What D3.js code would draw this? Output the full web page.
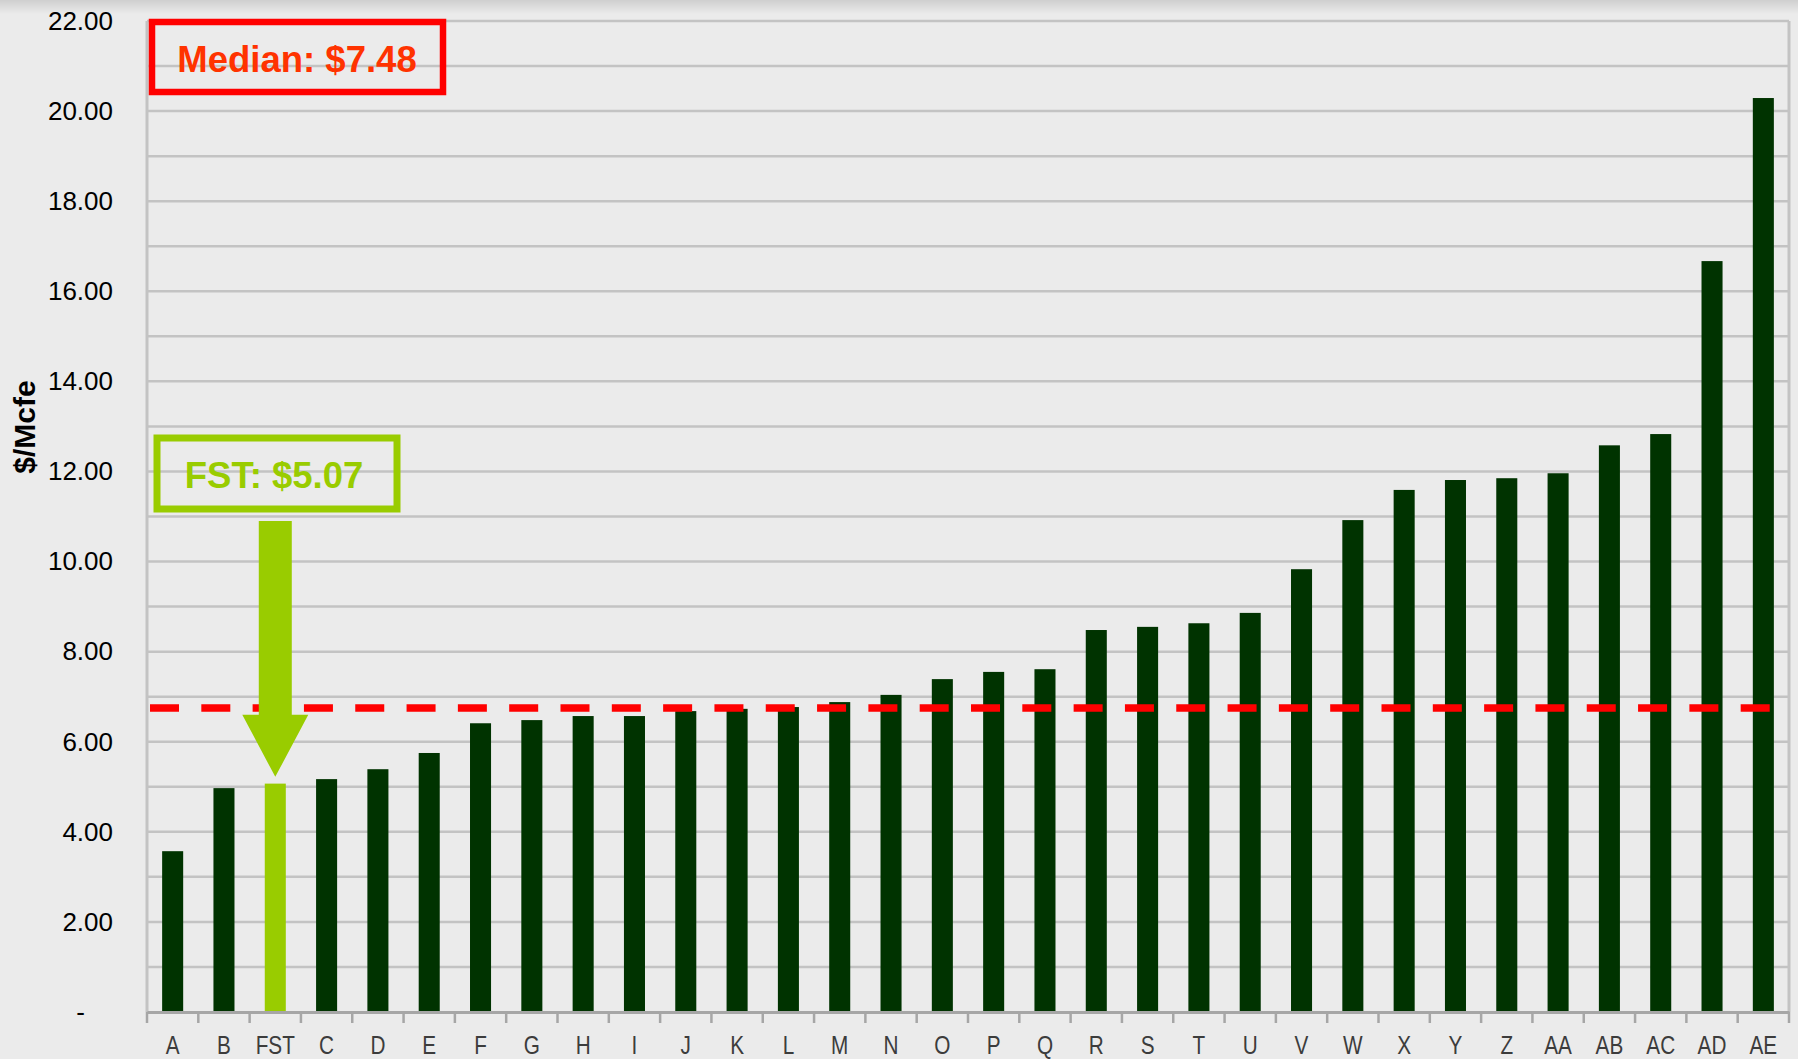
<!DOCTYPE html>
<html>
<head>
<meta charset="utf-8">
<script src="https://cdn.jsdelivr.net/npm/d3@7"></script>
<style>
  body { margin: 0; background: #ebebeb; }
  svg { display: block; }
</style>
</head>
<body>
<svg id="chart" width="1798" height="1059"></svg>
<script>
// categories and values
const categories = ["A", "B", "FST", "C", "D", "E", "F", "G", "H", "I", "J", "K", "L", "M", "N", "O",
  "P", "Q", "R", "S", "T", "U", "V", "W", "X", "Y", "Z", "AA", "AB", "AC", "AD", "AE"];
const values = [3.57, 4.97, 5.07, 5.17, 5.39, 5.75, 6.41, 6.48, 6.57, 6.57, 6.68, 6.73, 6.77, 6.88, 7.04, 7.39,
  7.55, 7.61, 8.48, 8.55, 8.63, 8.86, 9.83, 10.92, 11.59, 11.81, 11.85, 11.96, 12.58, 12.83, 16.67, 20.29];
const yTickValues = [0, 2, 4, 6, 8, 10, 12, 14, 16, 18, 20, 22];
const gridValues = [1, 2, 3, 4, 5, 6, 7, 8, 9, 10, 11, 12, 13, 14, 15, 16, 17, 18, 19, 20, 21, 22];
const medianLineValue = 6.75;
const medianText = "Median: $7.48";
const highlightName = "FST";
const highlightText = "FST: $5.07";
// arrow over the highlighted bar, in $/Mcfe
const arrowTop = 10.9, arrowHeadBase = 6.6, arrowTip = 5.22;

const width = 1798, height = 1059;
const plotLeft = 147, plotRight = 1789, plotTop = 21, plotBottom = 1012;

const svg = d3.select("#chart");

// faint shadow along the top edge
const defs = svg.append("defs");
const grad = defs.append("linearGradient").attr("id", "topshade")
  .attr("x1", 0).attr("y1", 0).attr("x2", 0).attr("y2", 1);
grad.append("stop").attr("offset", "0%").attr("stop-color", "#cfcfcf");
grad.append("stop").attr("offset", "100%").attr("stop-color", "#ebebeb");
svg.append("rect").attr("width", width).attr("height", height).attr("fill", "#ebebeb");
svg.append("rect").attr("width", width).attr("height", 14).attr("fill", "url(#topshade)");

//  scales
const x = d3.scaleBand()
  .domain(categories)
  .range([plotLeft, plotRight])
  .paddingInner(0.59)
  .paddingOuter(0.295);

const y = d3.scaleLinear()
  .domain([0, 22])
  .range([plotBottom, plotTop]);

const step = x.step();

//  gridlines
svg.append("g")
  .selectAll("line")
  .data(gridValues)
  .join("line")
  .attr("x1", plotLeft).attr("x2", plotRight)
  .attr("y1", d => y(d)).attr("y2", d => y(d))
  .attr("stroke", "#c3c3c3")
  .attr("stroke-width", 2.5);

// plot frame sides
svg.append("line").attr("x1", plotLeft).attr("x2", plotLeft).attr("y1", plotTop).attr("y2", plotBottom)
  .attr("stroke", "#c3c3c3").attr("stroke-width", 3);
svg.append("line").attr("x1", plotRight).attr("x2", plotRight).attr("y1", plotTop).attr("y2", plotBottom)
  .attr("stroke", "#c3c3c3").attr("stroke-width", 3);

//  bars
svg.append("g")
  .selectAll("rect")
  .data(categories)
  .join("rect")
  .attr("x", d => x(d))
  .attr("width", x.bandwidth())
  .attr("y", (d, i) => y(values[i]))
  .attr("height", (d, i) => y(0) - y(values[i]))
  .attr("fill", d => d === highlightName ? "#99cc00" : "#003300");

//  median dashed line
svg.append("line")
  .attr("x1", plotLeft + 3).attr("x2", plotRight - 4)
  .attr("y1", y(medianLineValue)).attr("y2", y(medianLineValue))
  .attr("stroke", "#ff0000")
  .attr("stroke-width", 7.5)
  .attr("stroke-dasharray", `29,${step - 29}`);

//  x axis
const xAxis = d3.axisBottom(x).tickSize(0).tickPadding(24);
const gx = svg.append("g")
  .attr("transform", `translate(0,${plotBottom})`)
  .call(xAxis);
gx.select(".domain").attr("stroke", "#a6a6a6").attr("stroke-width", 3);
// condensed look: squeeze the labels horizontally around their centre
gx.selectAll(".tick text")
  .attr("fill", "#3c3c3c")
  .attr("transform", "scale(0.83,1)")
  .style("font-family", "'Liberation Sans', Arial, sans-serif")
  .style("font-size", "25px");
// tick marks on the band edges
gx.append("g")
  .selectAll("line")
  .data(d3.range(categories.length + 1))
  .join("line")
  .attr("x1", i => plotLeft + i * step).attr("x2", i => plotLeft + i * step)
  .attr("y1", 0).attr("y2", 11)
  .attr("stroke", "#a6a6a6")
  .attr("stroke-width", 2.5);

//  y axis labels
const yAxis = d3.axisLeft(y)
  .tickValues(yTickValues)
  .tickSize(0)
  .tickPadding(34)
  .tickFormat(d => d === 0 ? "-" : d3.format(".2f")(d));
const gy = svg.append("g")
  .attr("transform", `translate(${plotLeft},0)`)
  .call(yAxis);
gy.select(".domain").remove();
gy.selectAll(".tick text")
  .attr("fill", "#000")
  .style("font-family", "'Liberation Sans', Arial, sans-serif")
  .style("font-size", "26px")
  .attr("dx", d => d === 0 ? -28 : 0);

// y axis title
svg.append("text")
  .attr("transform", `translate(35,427) rotate(-90)`)
  .attr("text-anchor", "middle")
  .style("font-family", "'Liberation Sans', Arial, sans-serif")
  .style("font-weight", "bold")
  .style("font-size", "30px")
  .attr("fill", "#000")
  .text("$/Mcfe");

//  median box
svg.append("rect")
  .attr("x", 152).attr("y", 22).attr("width", 291).attr("height", 70)
  .attr("fill", "none").attr("stroke", "#ff0000").attr("stroke-width", 6.5);
svg.append("text")
  .attr("x", 297).attr("y", 72)
  .attr("text-anchor", "middle")
  .style("font-family", "'Liberation Sans', Arial, sans-serif")
  .style("font-weight", "bold")
  .style("font-size", "36.5px")
  .attr("fill", "#ff3300")
  .text(medianText);

//  highlight box
svg.append("rect")
  .attr("x", 157).attr("y", 438).attr("width", 240).attr("height", 71)
  .attr("fill", "none").attr("stroke", "#99cc00").attr("stroke-width", 7);
svg.append("text")
  .attr("x", 274).attr("y", 488)
  .attr("text-anchor", "middle")
  .style("font-family", "'Liberation Sans', Arial, sans-serif")
  .style("font-weight", "bold")
  .style("font-size", "36.5px")
  .attr("fill", "#99cc00")
  .text(highlightText);

//  arrow pointing at the highlighted bar
const cx = x(highlightName) + x.bandwidth() / 2;
const shaftHalf = 16.5, headHalf = 33;
const arrowPath = d3.path();
arrowPath.moveTo(cx - shaftHalf, y(arrowTop));
arrowPath.lineTo(cx + shaftHalf, y(arrowTop));
arrowPath.lineTo(cx + shaftHalf, y(arrowHeadBase));
arrowPath.lineTo(cx + headHalf, y(arrowHeadBase));
arrowPath.lineTo(cx, y(arrowTip));
arrowPath.lineTo(cx - headHalf, y(arrowHeadBase));
arrowPath.lineTo(cx - shaftHalf, y(arrowHeadBase));
arrowPath.closePath();
svg.append("path")
  .attr("d", arrowPath.toString())
  .attr("fill", "#99cc00");
</script>
</body>
</html>
